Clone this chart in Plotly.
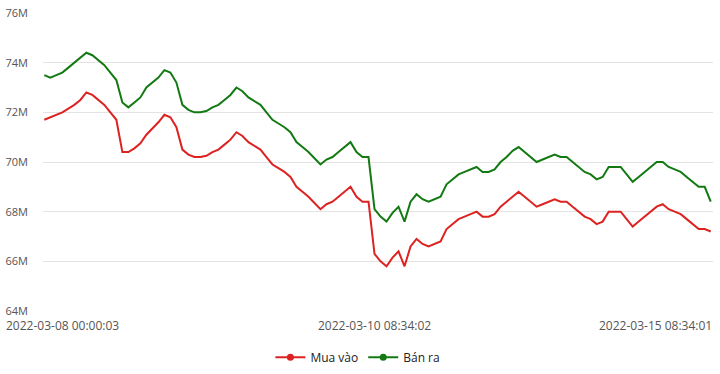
import plotly.graph_objects as go

# Buy ("Mua vào") and sell ("Bán ra") prices, in millions, one value per sample
mua_vao = [
    71.7, 71.8, 71.9, 72.0, 72.15, 72.3, 72.5, 72.8, 72.7, 72.5,
    72.3, 72.0, 71.7, 70.4, 70.4, 70.55, 70.75, 71.1, 71.35, 71.6,
    71.9, 71.8, 71.4, 70.5, 70.3, 70.2, 70.2, 70.25, 70.4, 70.5,
    70.7, 70.9, 71.2, 71.05, 70.8, 70.65, 70.5, 70.2, 69.9, 69.75,
    69.6, 69.4, 69.0, 68.8, 68.6, 68.35, 68.1, 68.3, 68.4, 68.6,
    68.8, 69.0, 68.6, 68.4, 68.4, 66.3, 66.0, 65.8, 66.15, 66.4,
    65.8, 66.6, 66.9, 66.7, 66.6, 66.7, 66.8, 67.3, 67.5, 67.7,
    67.8, 67.9, 68.0, 67.8, 67.8, 67.9, 68.2, 68.4, 68.6, 68.8,
    68.6, 68.4, 68.2, 68.3, 68.4, 68.5, 68.4, 68.4, 68.2, 68.0,
    67.8, 67.7, 67.5, 67.6, 68.0, 68.0, 68.0, 67.7, 67.4, 67.6,
    67.8, 68.0, 68.2, 68.3, 68.1, 68.0, 67.9, 67.7, 67.5, 67.3,
    67.3, 67.2,
]
ban_ra = [
    73.5, 73.4, 73.5, 73.6, 73.8, 74.0, 74.2, 74.4, 74.3, 74.1,
    73.9, 73.6, 73.3, 72.4, 72.2, 72.4, 72.6, 73.0, 73.2, 73.4,
    73.7, 73.6, 73.2, 72.3, 72.1, 72.0, 72.0, 72.05, 72.2, 72.3,
    72.5, 72.7, 73.0, 72.85, 72.6, 72.45, 72.3, 72.0, 71.7, 71.55,
    71.4, 71.2, 70.8, 70.6, 70.4, 70.15, 69.9, 70.1, 70.2, 70.4,
    70.6, 70.8, 70.4, 70.2, 70.2, 68.1, 67.8, 67.6, 67.95, 68.2,
    67.6, 68.4, 68.7, 68.5, 68.4, 68.5, 68.6, 69.1, 69.3, 69.5,
    69.6, 69.7, 69.8, 69.6, 69.6, 69.7, 70.0, 70.2, 70.45, 70.6,
    70.4, 70.2, 70.0, 70.1, 70.2, 70.3, 70.2, 70.2, 70.0, 69.8,
    69.6, 69.5, 69.3, 69.4, 69.8, 69.8, 69.8, 69.5, 69.2, 69.4,
    69.6, 69.8, 70.0, 70.0, 69.8, 69.7, 69.6, 69.4, 69.2, 69.0,
    69.0, 68.4,
]
tick_index = [0, 55, 111]
tick_labels = ["2022-03-08 00:00:03", "2022-03-10 08:34:02", "2022-03-15 08:34:01"]
y_ticks = [64, 66, 68, 70, 72, 74, 76]
y_tick_text = ["64M", "66M", "68M", "70M", "72M", "74M", "76M"]

RED = "#dd2222"
GREEN = "#137a13"
FONT = "Open Sans"

x = list(range(len(ban_ra)))

fig = go.Figure()
fig.add_trace(go.Scatter(x=x, y=mua_vao, mode="lines", line=dict(color=RED, width=2),
                         showlegend=False, hoverinfo="skip"))
fig.add_trace(go.Scatter(x=x, y=ban_ra, mode="lines", line=dict(color=GREEN, width=2),
                         showlegend=False, hoverinfo="skip"))
# legend entries (line + dot)
fig.add_trace(go.Scatter(x=[None], y=[None], mode="lines+markers", name="Mua vào",
                         line=dict(color=RED, width=2), marker=dict(color=RED, size=7)))
fig.add_trace(go.Scatter(x=[None], y=[None], mode="lines+markers", name="Bán ra",
                         line=dict(color=GREEN, width=2), marker=dict(color=GREEN, size=7)))

n = len(ban_ra)
fig.update_layout(
    width=720, height=374,
    margin=dict(l=43, r=7, t=13, b=63, autoexpand=False),
    paper_bgcolor="white", plot_bgcolor="white",
    font=dict(family=FONT, size=11, color="#555"),
    xaxis=dict(range=[-0.22, n - 1 + 0.38], showgrid=False, zeroline=False,
               showticklabels=False, showline=False, ticks="", automargin=False),
    yaxis=dict(range=[64, 76], tickvals=y_ticks, ticktext=y_tick_text,
               showgrid=True, gridcolor="#e3e3e3", gridwidth=1, zeroline=False,
               showline=False, ticks="", ticklabelstandoff=14, automargin=False,
               tickfont=dict(family=FONT, size=11, color="#555")),
    legend=dict(orientation="h", x=0.47, xanchor="center", y=-0.155, yanchor="middle",
                font=dict(family=FONT, size=12, color="#222"), itemwidth=30,
                bgcolor="rgba(0,0,0,0)"),
    showlegend=True,
)

shifts = [18, 0, -55]
for idx, lab, sh in zip(tick_index, tick_labels, shifts):
    fig.add_annotation(x=idx, y=0, xref="x", yref="paper", text=lab, showarrow=False,
                       xanchor="center", yanchor="top", xshift=sh, yshift=-4,
                       font=dict(family=FONT, size=12, color="#555"))

fig.write_html("out.html", config={"displayModeBar": False},
               post_script="document.body.style.margin='0';document.body.style.overflow='hidden';")
